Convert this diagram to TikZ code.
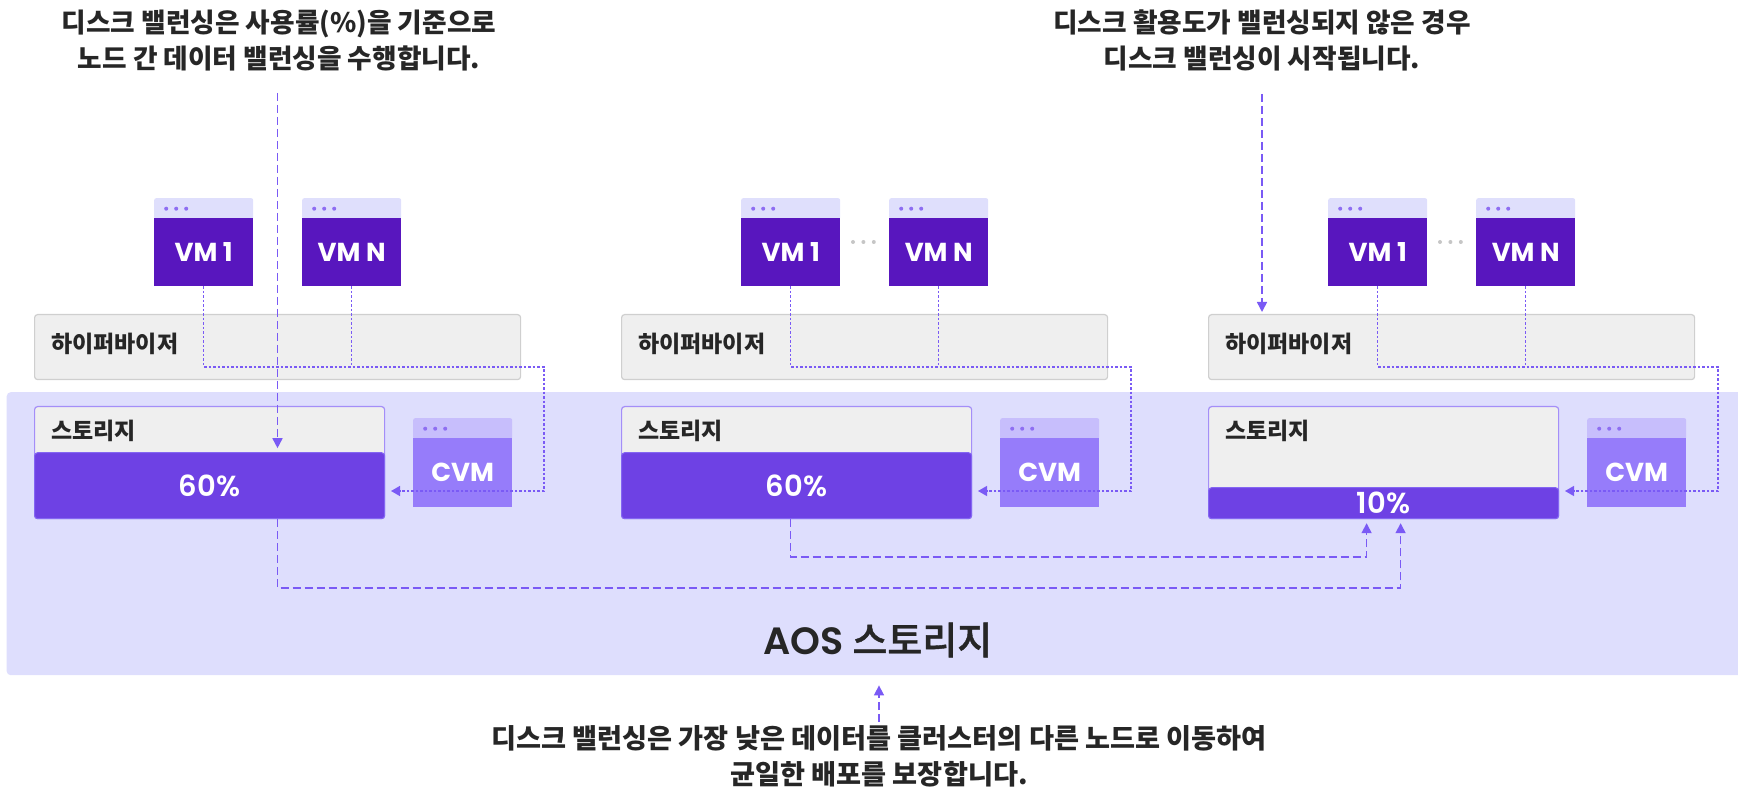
\documentclass[tikz,border=0pt]{standalone}
\usepackage{fontspec}
\setmainfont{Noto Sans CJK KR}
\newfontfamily\krmed{Noto Sans CJK KR}[UprightFont={* Medium}, FakeBold = 1]
\newfontfamily\lat{Poppins}
\newfontfamily\latsemi{Poppins}[UprightFont={* SemiBold}]
\usepackage{tikz}
\usetikzlibrary{arrows.meta}
\usetikzlibrary{positioning}
\definecolor{mvm}{HTML}{5816BE}
\definecolor{mhead}{HTML}{DFDFFC}
\definecolor{mdot}{HTML}{8E6EF2}
\definecolor{mcvm}{HTML}{967CFA}
\definecolor{mcvmhead}{HTML}{C7BEFC}
\definecolor{mbar}{HTML}{6E41E4}
\definecolor{mbarline}{HTML}{8466F2}
\definecolor{mgray}{HTML}{EFEFEF}
\definecolor{mline}{HTML}{CFCFCF}
\definecolor{msto}{HTML}{A48EF8}
\definecolor{maos}{HTML}{DEDEFD}
\definecolor{mlink}{HTML}{7A5AF5}
\definecolor{mtext}{HTML}{262626}
\definecolor{mgraydot}{HTML}{C6C6C6}
\tikzset{
  winhead/.style = {minimum width = 99pt, minimum height = 21pt, inner sep = 0, rounded corners = 2pt,
    path picture = {\foreach \dx in {12, 22, 32} \fill [mdot] ([xshift = \dx pt] path picture bounding box.west) circle (2pt);}},
  vmhead/.style = {winhead, fill = mhead},
  cvmhead/.style = {winhead, fill = mcvmhead},
  vmbody/.style = {fill = mvm, minimum width = 99pt, minimum height = 68pt, inner sep = 0, text = white,
    font = \lat\bfseries\fontsize{26}{26}\selectfont},
  cvmbody/.style = {vmbody, fill = mcvm, minimum height = 69pt},
  layer/.style = {fill = mgray, draw = mline, line width = 1.2pt, rounded corners = 3pt,
    minimum width = 486pt, minimum height = 65pt, inner sep = 0},
  store/.style = {layer, draw = msto, minimum width = 350pt, minimum height = 112pt},
  fillbar/.style = {fill = mbar, draw = mbarline, line width = 1pt, rounded corners = 3pt, minimum width = 350pt,
    inner sep = 0, text = white, font = \latsemi\fontsize{29}{29}\selectfont},
  tag/.style = {font = \bfseries\fontsize{23}{23}\selectfont, text = mtext, inner sep = 0},
  note/.style = {font = \bfseries\fontsize{26.7}{36}\selectfont, text = mtext, align = center, inner sep = 0},
  vmlink/.style = {mlink, line width = 1.4pt, dash pattern = on 2.5pt off 2pt, -{Triangle[length = 9pt, width = 10pt]}},
  ballink/.style = {mlink, line width = 1.6pt, dash pattern = on 8pt off 4pt, -{Triangle[length = 10pt, width = 10pt]}},
  gdot/.style = {fill = mgraydot, circle, inner sep = 0, minimum size = 4pt}
}
\begin{document}
\begin{tikzpicture}[x=1pt, y=-1pt]
    \useasboundingbox (0, 0) rectangle (1738, 791);

    \node [fill = maos, rounded corners = 4pt, minimum width = 1740pt, minimum height = 283pt, inner sep = 0, anchor = north west] (aos) at (6.5, 392) {};
    \node [font = \krmed\fontsize{38}{38}\selectfont, text = mtext] (aosT) at (878, 640) {{\latsemi AOS} 스토리지};

    % first node
    \node [vmhead, anchor = north west] (hd1A) at (154, 198) {};
    \node [vmbody, anchor = north west] (vm1A) at (154, 218) {VM 1};
    \node [vmhead, anchor = north west] (hdnA) at (302, 198) {};
    \node [vmbody, anchor = north west] (vmnA) at (302, 218) {VM N};
    \node [layer, anchor = north west] (hypA) at (34, 314) {};
    \node [tag, right = 17pt of hypA.west, yshift = 3pt] (hyptA) {하이퍼바이저};
    \node [store, anchor = north west] (stoA) at (34, 406) {};
    \node [tag, anchor = west] (stotA) at ([xshift = 17pt, yshift = -25pt] stoA.north west) {스토리지};
    \node [fillbar, minimum height = 66pt, anchor = south] (barA) at (stoA.south) {60\%};
    \node [cvmhead, anchor = north west] (hdcA) at (413, 418) {};
    \node [cvmbody, anchor = north west] (cvmA) at (413, 438) {CVM};
    \coordinate (turnA) at (544, 367);
    \coordinate (inA) at (391, 491);
    \draw [vmlink] (vm1A.south) |- (turnA) |- (inA);
    \draw [vmlink, -] (vmnA.south) -- (vmnA.south |- turnA);

    % second node
    \begin{scope}[shift = {(587, 0)}]
      \node [vmhead, anchor = north west] (hd1B) at (154, 198) {};
      \node [vmbody, anchor = north west] (vm1B) at (154, 218) {VM 1};
      \node [vmhead, anchor = north west] (hdnB) at (302, 198) {};
      \node [vmbody, anchor = north west] (vmnB) at (302, 218) {VM N};
      \node [gdot] (gB1) at (266, 242) {};
      \node [gdot, right = 6pt of gB1] (gB2) {};
      \node [gdot, right = 6pt of gB2] (gB3) {};
      \node [layer, anchor = north west] (hypB) at (34, 314) {};
      \node [tag, right = 17pt of hypB.west, yshift = 3pt] (hyptB) {하이퍼바이저};
      \node [store, anchor = north west] (stoB) at (34, 406) {};
      \node [tag, anchor = west] (stotB) at ([xshift = 17pt, yshift = -25pt] stoB.north west) {스토리지};
      \node [fillbar, minimum height = 66pt, anchor = south] (barB) at (stoB.south) {60\%};
      \node [cvmhead, anchor = north west] (hdcB) at (413, 418) {};
      \node [cvmbody, anchor = north west] (cvmB) at (413, 438) {CVM};
      \coordinate (turnB) at (544, 367);
      \coordinate (inB) at (391, 491);
      \draw [vmlink] (vm1B.south) |- (turnB) |- (inB);
      \draw [vmlink, -] (vmnB.south) -- (vmnB.south |- turnB);
    \end{scope}

    % third node
    \begin{scope}[shift = {(1174, 0)}]
      \node [vmhead, anchor = north west] (hd1C) at (154, 198) {};
      \node [vmbody, anchor = north west] (vm1C) at (154, 218) {VM 1};
      \node [vmhead, anchor = north west] (hdnC) at (302, 198) {};
      \node [vmbody, anchor = north west] (vmnC) at (302, 218) {VM N};
      \node [gdot] (gC1) at (266, 242) {};
      \node [gdot, right = 6pt of gC1] (gC2) {};
      \node [gdot, right = 6pt of gC2] (gC3) {};
      \node [layer, anchor = north west] (hypC) at (34, 314) {};
      \node [tag, right = 17pt of hypC.west, yshift = 3pt] (hyptC) {하이퍼바이저};
      \node [store, anchor = north west] (stoC) at (34, 406) {};
      \node [tag, anchor = west] (stotC) at ([xshift = 17pt, yshift = -25pt] stoC.north west) {스토리지};
      \node [fillbar, minimum height = 31pt, anchor = south] (barC) at (stoC.south) {10\%};
      \node [cvmhead, anchor = north west] (hdcC) at (413, 418) {};
      \node [cvmbody, anchor = north west] (cvmC) at (413, 438) {CVM};
      \coordinate (turnC) at (544, 367);
      \coordinate (inC) at (391, 491);
      \draw [vmlink] (vm1C.south) |- (turnC) |- (inC);
      \draw [vmlink, -] (vmnC.south) -- (vmnC.south |- turnC);
    \end{scope}

    % notes
    \node [note] (noteA) at (279, 40.5) {디스크 밸런싱은 사용률(\%)을 기준으로\\노드 간 데이터 밸런싱을 수행합니다.};
    \node [note] (noteC) at (1262, 40.5) {디스크 활용도가 밸런싱되지 않은 경우\\디스크 밸런싱이 시작됩니다.};
    \node [note, font = \bfseries\fontsize{27.2}{36}\selectfont] (noteD) at (879, 756) {디스크 밸런싱은 가장 낮은 데이터를 클러스터의 다른 노드로 이동하여\\균일한 배포를 보장합니다.};

    \coordinate (srcA) at (277.5, 93);
    \coordinate (srcC) at (1262, 94);
    \coordinate (srcD) at (879, 722);
    \draw [ballink, shorten >= 4pt] (srcA) -- (srcA |- barA.north);
    \draw [ballink, shorten >= 4pt] (srcA |- barA.south) -- ++(0, 69) -| ([xshift = 17pt] barC.south);
    \draw [ballink, shorten >= 4pt] ([xshift = -6pt] barB.south) -- ++(0, 38) -| ([xshift = -17pt] barC.south);
    \draw [ballink, shorten >= 2pt] (srcC) -- (srcC |- hypC.north);
    \draw [ballink, shorten >= 10pt] (srcD) -- (srcD |- aos.south);
  \end{tikzpicture}
\end{document}
